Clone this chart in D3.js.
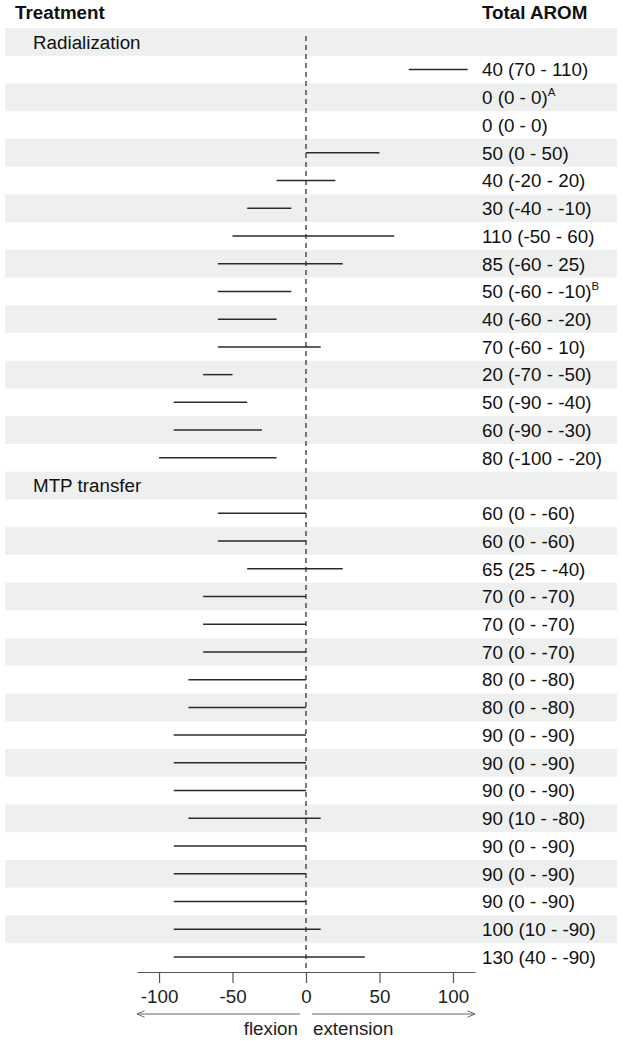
<!DOCTYPE html>
<html>
<head>
<meta charset="utf-8">
<script src="https://cdn.jsdelivr.net/npm/d3@7"></script>
<style>
    body { margin: 0; background: #fff; }
    svg { display: block; font-family: "Liberation Sans", Arial, sans-serif; }
</style>
</head>
<body>
<div class="panel"></div>
<script>

// Data ////////////////////////////////////

const groups = ["Radialization", "MTP transfer"];

// Radialization: range min / max, total, footnote
const radMin   = [70, 0, 0, 0, -20, -40, -50, -60, -60, -60, -60, -70, -90, -90, -100];
const radMax   = [110, 0, 0, 50, 20, -10, 60, 25, -10, -20, 10, -50, -40, -30, -20];
const radTotal = [40, 0, 0, 50, 40, 30, 110, 85, 50, 40, 70, 20, 50, 60, 80];
const radNote  = ["", "A", "", "", "", "", "", "", "B", "", "", "", "", "", ""];

// MTP transfer: extension (first) and flexion (second) as printed
const mtpExt   = [0, 0, 25, 0, 0, 0, 0, 0, 0, 0, 0, 10, 0, 0, 0, 10, 40];
const mtpFlex  = [-60, -60, -40, -70, -70, -70, -80, -80, -90, -90, -90, -80, -90, -90, -90, -90, -90];
const mtpTotal = [60, 60, 65, 70, 70, 70, 80, 80, 90, 90, 90, 90, 90, 90, 90, 100, 130];

const xTicks = [-100, -50, 0, 50, 100];

// Rows /////////////////////////////////////

const rows = [];
rows.push({ header: groups[0] });
radMin.forEach((d, i) => rows.push({
    lo: d, hi: radMax[i], note: radNote[i],
    label: `${radTotal[i]} (${d} - ${radMax[i]})`
}));
rows.push({ header: groups[1] });
mtpExt.forEach((d, i) => rows.push({
    lo: mtpFlex[i], hi: d, note: "",
    label: `${mtpTotal[i]} (${d} - ${mtpFlex[i]})`
}));

// Chart ////////////////////////////////////

const dim = { width: 622, height: 1041 };
const rowTop = 28, rowH = 27.73;
const axisY = 972;
const fs = 18.8;

const svg = d3.select(".panel").append("svg")
    .attr("width", dim.width)
    .attr("height", dim.height);

const x = d3.scaleLinear().domain([-115, 115]).range([137, 475]);
const y = d3.scaleBand()
    .domain(d3.range(rows.length))
    .range([rowTop, rowTop + rowH * rows.length])
    .padding(0);

// Bands
svg.append("g")
    .selectAll("rect")
    .data(rows.map((d, i) => i).filter(i => i % 2 === 0))
    .join("rect")
    .attr("x", 5)
    .attr("width", 612)
    .attr("y", i => y(i))
    .attr("height", y.bandwidth())
    .attr("fill", "#eef0ef");

// Headers
svg.append("text")
    .attr("x", 15).attr("y", 18.5)
    .attr("font-size", 18.8).attr("font-weight", "bold").attr("fill", "#111")
    .text("Treatment");

svg.append("text")
    .attr("x", 482).attr("y", 18.5)
    .attr("font-size", 18.8).attr("font-weight", "bold").attr("fill", "#111")
    .text("Total AROM");

// Zero line
svg.append("line")
    .attr("x1", x(0)).attr("x2", x(0))
    .attr("y1", 36).attr("y2", axisY)
    .attr("stroke", "#333")
    .attr("stroke-width", 1.3)
    .attr("stroke-dasharray", "5,4");

// Group labels
svg.append("g")
    .selectAll("text")
    .data(rows.map((d, i) => ({ ...d, i })).filter(d => d.header))
    .join("text")
    .attr("x", 33)
    .attr("y", d => y(d.i) + rowH / 2 + 6.8)
    .attr("font-size", fs)
    .attr("fill", "#111")
    .text(d => d.header);

const data = rows.map((d, i) => ({ ...d, i })).filter(d => !d.header);

// Range lines
svg.append("g")
    .selectAll("line")
    .data(data.filter(d => d.hi !== d.lo))
    .join("line")
    .attr("x1", d => x(d.lo))
    .attr("x2", d => x(d.hi))
    .attr("y1", d => y(d.i) + rowH / 2)
    .attr("y2", d => y(d.i) + rowH / 2)
    .attr("stroke", "#2a2a2a")
    .attr("stroke-width", 1.5);

// Value labels
const labels = svg.append("g")
    .selectAll("text")
    .data(data)
    .join("text")
    .attr("x", 482)
    .attr("y", d => y(d.i) + rowH / 2 + 6.8)
    .attr("font-size", fs)
    .attr("fill", "#111");

labels.append("tspan").text(d => d.label);
labels.filter(d => d.note)
    .append("tspan")
    .attr("dy", -8)
    .attr("font-size", 11.5)
    .text(d => d.note);

// Axis
const axis = svg.append("g")
    .attr("transform", `translate(0, ${axisY})`)
    .call(d3.axisBottom(x)
        .tickValues(xTicks)
        .tickFormat(d => String(d))
        .tickSize(11)
        .tickPadding(7)
        .tickSizeOuter(0));

axis.select(".domain").attr("stroke", "#555").attr("stroke-width", 1.2);
axis.selectAll(".tick line").attr("stroke", "#555").attr("stroke-width", 1.2);
axis.selectAll(".tick text")
    .attr("font-size", fs)
    .attr("fill", "#222")
    .attr("font-family", "Liberation Sans, Arial, sans-serif");

// Direction arrows
const arrowY = 1014;

svg.append("defs").append("marker")
    .attr("id", "arrow")
    .attr("viewBox", "0 0 10 10")
    .attr("refX", 9.5).attr("refY", 5)
    .attr("markerWidth", 8).attr("markerHeight", 8)
    .attr("markerUnits", "userSpaceOnUse")
    .attr("orient", "auto")
    .append("path")
    .attr("d", "M0,1 L9.5,5 L0,9")
    .attr("fill", "none")
    .attr("stroke", "#666")
    .attr("stroke-width", 1.2);

svg.append("line")
    .attr("x1", x(0) - 6).attr("x2", x(-115))
    .attr("y1", arrowY).attr("y2", arrowY)
    .attr("stroke", "#666").attr("stroke-width", 1)
    .attr("marker-end", "url(#arrow)");

svg.append("line")
    .attr("x1", x(0) + 6).attr("x2", x(115))
    .attr("y1", arrowY).attr("y2", arrowY)
    .attr("stroke", "#666").attr("stroke-width", 1)
    .attr("marker-end", "url(#arrow)");

svg.append("text")
    .attr("x", x(0) - 8).attr("y", 1035)
    .attr("text-anchor", "end")
    .attr("font-size", fs).attr("fill", "#222")
    .text("flexion");

svg.append("text")
    .attr("x", x(0) + 7).attr("y", 1035)
    .attr("font-size", fs).attr("fill", "#222")
    .text("extension");

</script>
</body>
</html>
